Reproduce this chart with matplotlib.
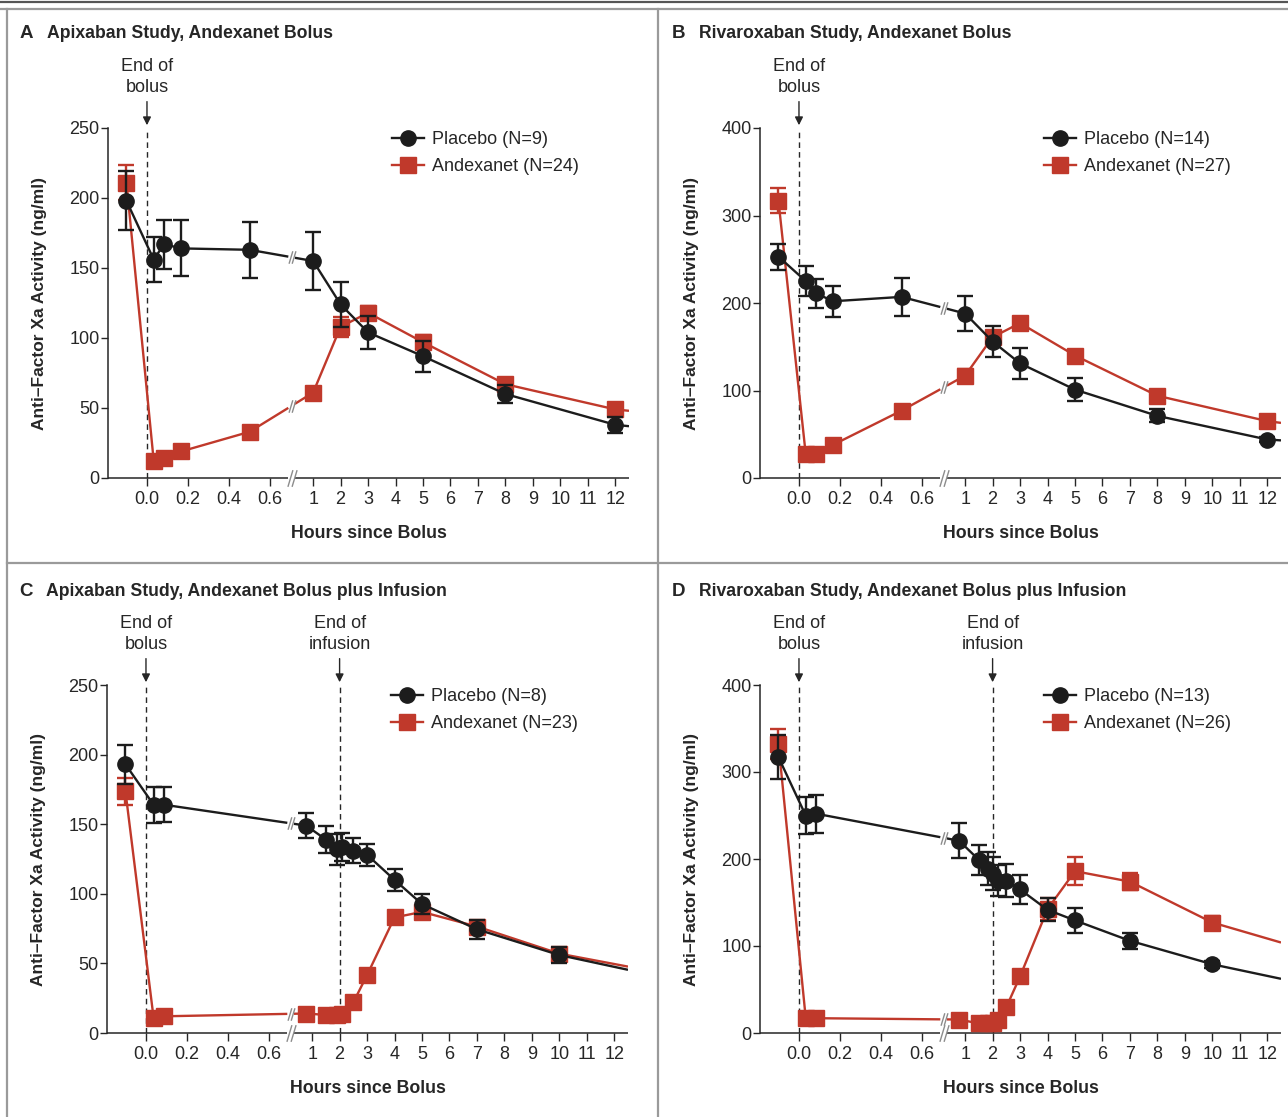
import numpy as np
import matplotlib
matplotlib.use('Agg')
import matplotlib.pyplot as plt
from matplotlib.lines import Line2D
from matplotlib.path import Path

plt.rcParams['font.family'] = ['Liberation Sans', 'DejaVu Sans']

RED = '#c0392b'
BLK = '#1c1c1c'
TXT = '#262626'
GREY = '#8c8c8c'

# ---- data (hours, ng/ml) ----
# A: apixaban, bolus
a_hours = [-0.1, 0.033, 0.083, 0.167, 0.5, 1, 2, 3, 5, 8, 12]
a_pla_y = [198, 156, 167, 164, 163, 155, 124, 104, 87, 60, 38]
a_pla_err = [21, 16, 17.5, 20, 20, 21, 16, 12, 11, 6.5, 5.5]
a_and_y = [211, 12, 14.5, 19, 33, 61, 108, 118, 97, 67, 49]
a_and_err = [12.5, 2, 2, 2, 3, 3, 7, 5, 5, 3, 3]
a_tail = [37, 48]          # placebo, andexanet at right edge

# B: rivaroxaban, bolus
b_hours = [-0.1, 0.033, 0.083, 0.167, 0.5, 1, 2, 3, 5, 8, 12]
b_pla_y = [253, 225, 211, 202, 207, 188, 156, 131, 101, 71, 44]
b_pla_err = [15, 17, 17, 18, 22, 20, 18, 18, 13, 7.5, 3]
b_and_y = [317, 27, 27, 38, 77, 117, 161, 177, 140, 94, 65]
b_and_err = [14.5, 3, 3, 5, 5, 8, 6, 7, 4, 4, 3]
b_tail = [43, 63]

# C: apixaban, bolus plus infusion
c_hours = [-0.1, 0.037, 0.087, 0.92, 1.5, 1.9, 2.1, 2.5, 3, 4, 5, 7, 10]
c_pla_y = [193, 164, 164, 149, 139, 132, 133.5, 131, 128, 110, 92.6, 74.5, 56]
c_pla_err = [14, 13, 12.5, 9, 10, 11, 10, 9, 8, 8, 7, 7, 6]
c_and_y = [173.5, 11, 12, 14, 13, 13, 14, 22, 41.6, 83, 87, 76.5, 57]
c_and_err = [10, 2, 2, 2, 2, 2, 2, 2, 3, 3, 4, 4, 4]
c_tail = [45.4, 47.7]

# D: rivaroxaban, bolus plus infusion
d_hours = [-0.1, 0.033, 0.085, 0.92, 1.5, 1.85, 2.03, 2.2, 2.5, 3, 4, 5, 7, 10]
d_pla_y = [317, 250, 252, 221, 199, 189, 183, 175, 175, 165, 141.6, 129.4, 106, 79]
d_pla_err = [25, 21, 22, 20, 17, 19, 19, 18, 19, 17, 13, 14, 9.5, 4]
d_and_y = [332.5, 17, 17, 15.5, 11, 11, 12, 15.5, 29.7, 65, 142.4, 186, 174, 127]
d_and_err = [17, 3, 3, 3, 3, 3, 3, 3, 3, 4, 13, 16, 10, 7]
d_tail = [62.3, 104]

x_ticks = [0, 0.2, 0.4, 0.6, 1, 2, 3, 4, 5, 6, 7, 8, 9, 10, 11, 12]
x_ticklabels = ['0.0', '0.2', '0.4', '0.6', '1', '2', '3', '4', '5', '6',
                '7', '8', '9', '10', '11', '12']

# broken time axis: minutes part stretched, hours part compressed
KNOT_H = [-1.0, 0.7, 1.0, 13.0]
KNOT_U = [-1.0, 0.7, 0.81, 0.81 + 12 * 0.1339]
BREAK_U = 0.705
GAP_U = 0.016
X_MIN, X_MAX = -0.19, 12.5


def fwd(h):
    return np.interp(np.asarray(h, float), KNOT_H, KNOT_U)


def inv(u):
    return np.interp(np.asarray(u, float), KNOT_U, KNOT_H)


slash_path = Path([(-0.55, -1), (0.05, 1), (-0.05, -1), (0.55, 1)],
                  [Path.MOVETO, Path.LINETO, Path.MOVETO, Path.LINETO])


def draw_series(ax, hours, y, err, tail, color, marker, z):
    h = list(hours) + [X_MAX]
    yy = list(y) + [tail]
    u = fwd(h)
    # split the line where it crosses the axis break
    i = int(np.searchsorted(u, BREAK_U)) - 1
    yl = np.interp(BREAK_U - GAP_U, u[i:i + 2], yy[i:i + 2])
    yr = np.interp(BREAK_U + GAP_U, u[i:i + 2], yy[i:i + 2])
    yb = np.interp(BREAK_U, u[i:i + 2], yy[i:i + 2])
    ax.plot(h[:i + 1] + [float(inv(BREAK_U - GAP_U))], yy[:i + 1] + [yl],
            color=color, lw=1.7, zorder=z, solid_capstyle='butt')
    ax.plot([float(inv(BREAK_U + GAP_U))] + h[i + 1:], [yr] + yy[i + 1:],
            color=color, lw=1.7, zorder=z, solid_capstyle='butt')
    ax.plot([float(inv(BREAK_U))], [yb], marker=slash_path, ms=9, color=GREY,
            mew=1.0, ls='none', zorder=z)
    ax.errorbar(hours, y, yerr=err, fmt='none', ecolor=color, elinewidth=1.7,
                capsize=6, capthick=1.7, zorder=z)
    ax.plot(hours, y, ls='none', marker=marker, ms=11, color=color,
            mec=color, zorder=z + 0.5, clip_on=False)


def make_panel(pos, letter, title, ymax, hours, pla, and_, tail, n_pla, n_and, infusion):
    ax = fig.add_axes(pos)
    ax.set_xscale('function', functions=(fwd, inv))
    ax.set_xlim(X_MIN, X_MAX)
    ax.set_ylim(0, ymax)
    ystep = 50 if ymax == 250 else 100
    ax.set_yticks(np.arange(0, ymax + 1, ystep))
    ax.set_xticks(x_ticks)
    ax.set_xticklabels(x_ticklabels)
    for s in ['top', 'right', 'bottom']:
        ax.spines[s].set_visible(False)
    ax.spines['left'].set_color(TXT)
    ax.spines['left'].set_linewidth(1.1)
    ax.tick_params(axis='x', direction='out', length=6, width=1.0, color=TXT,
                   labelsize=13, labelcolor=TXT, pad=3.5)
    ax.tick_params(axis='y', direction='out', length=5, width=1.0, color=TXT,
                   labelsize=13, labelcolor=TXT, pad=1)

    # x axis line with break
    xt = ax.get_xaxis_transform()
    ax.plot([X_MIN, float(inv(BREAK_U - GAP_U))], [0, 0], color=TXT, lw=1.1,
            transform=xt, clip_on=False, solid_capstyle='butt')
    ax.plot([float(inv(BREAK_U + GAP_U)), X_MAX], [0, 0], color=TXT, lw=1.1,
            transform=xt, clip_on=False, solid_capstyle='butt')
    ax.plot([float(inv(BREAK_U))], [0], marker=slash_path, ms=12, color=GREY,
            mew=1.0, transform=xt, clip_on=False)

    # end of bolus / infusion markers
    events = [(0, 'End of\nbolus')]
    if infusion:
        events.append((2, 'End of\ninfusion'))
    for xe, lab in events:
        ax.axvline(xe, color=TXT, lw=1.0, ls=(0, (4, 3)), zorder=1)
        ax.annotate(lab, xy=(xe, 1.0), xycoords=('data', 'axes fraction'),
                    xytext=(0, 23), textcoords='offset points', ha='center',
                    va='bottom', fontsize=13, color=TXT, linespacing=1.3,
                    arrowprops=dict(arrowstyle='-|>', color=TXT, lw=1.0,
                                    shrinkA=2, shrinkB=2, mutation_scale=12))

    draw_series(ax, hours, and_[0], and_[1], tail[1], RED, 's', 3)
    draw_series(ax, hours, pla[0], pla[1], tail[0], BLK, 'o', 4)

    handles = [Line2D([], [], color=BLK, marker='o', ms=11, lw=1.7),
               Line2D([], [], color=RED, marker='s', ms=11, lw=1.7)]
    ax.legend(handles, ['Placebo (N=%d)' % n_pla, 'Andexanet (N=%d)' % n_and],
              loc='upper left', bbox_to_anchor=(0.545, 0.99), frameon=False,
              fontsize=13, handlelength=1.8, handletextpad=0.4,
              labelspacing=0.55, borderpad=0, borderaxespad=0,
              labelcolor=TXT)

    ax.text(0.5, -0.16, 'Hours since Bolus', transform=ax.transAxes,
            ha='center', va='center', fontsize=12.8, fontweight='bold', color=TXT)
    ax.text(-0.131, 0.5, 'Anti\u2013Factor Xa Activity (ng/ml)', transform=ax.transAxes,
            rotation=90, ha='center', va='center', fontsize=12.5,
            fontweight='bold', color=TXT)

    # panel heading
    x0 = pos[0] * W - 88
    ytop = (pos[1] + pos[3]) * H + 94
    fig.text(x0 / W, ytop / H, letter, ha='left', va='center', fontsize=13.5,
             fontweight='bold', color=TXT)
    fig.text((x0 + 27) / W, ytop / H, title, ha='left', va='center',
             fontsize=12.7, fontweight='bold', color=TXT)
    return ax


W, H = 1288, 1117
fig = plt.figure(figsize=(W / 100, H / 100), dpi=100)


def ax_pos(left, right, bottom, top):
    return [left / W, (H - bottom) / H, (right - left) / W, (bottom - top) / H]


make_panel(ax_pos(108, 629, 478, 128), 'A', 'Apixaban Study, Andexanet Bolus', 250,
           a_hours, (a_pla_y, a_pla_err), (a_and_y, a_and_err), a_tail, 9, 24, False)
make_panel(ax_pos(760, 1281, 478, 128), 'B', 'Rivaroxaban Study, Andexanet Bolus', 400,
           b_hours, (b_pla_y, b_pla_err), (b_and_y, b_and_err), b_tail, 14, 27, False)
make_panel(ax_pos(107, 628, 1033, 685), 'C', 'Apixaban Study, Andexanet Bolus plus Infusion', 250,
           c_hours, (c_pla_y, c_pla_err), (c_and_y, c_and_err), c_tail, 8, 23, True)
make_panel(ax_pos(760, 1281, 1033, 685), 'D', 'Rivaroxaban Study, Andexanet Bolus plus Infusion', 400,
           d_hours, (d_pla_y, d_pla_err), (d_and_y, d_and_err), d_tail, 13, 26, True)

# panel frame lines
def fig_line(xs, ys, color, lw):
    fig.add_artist(Line2D([x / W for x in xs], [1 - y / H for y in ys],
                          color=color, lw=lw, transform=fig.transFigure))

fig_line([0, W], [2, 2], '#555555', 1.6)
fig_line([0, W], [9, 9], '#9a9a9a', 1.6)
fig_line([7, 7], [9, H], '#9a9a9a', 1.6)
fig_line([657.5, 657.5], [9, H], '#9a9a9a', 1.6)
fig_line([7, W], [563, 563], '#9a9a9a', 1.6)

fig.savefig('out.png', dpi=100)
